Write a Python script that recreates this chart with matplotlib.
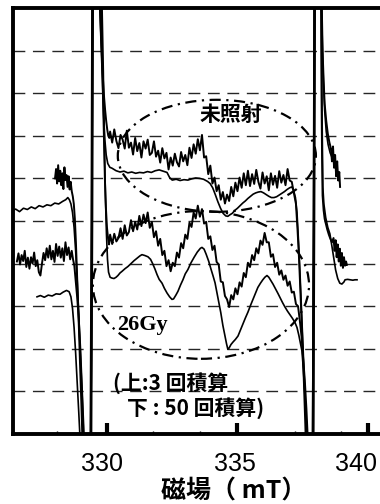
import numpy as np
import matplotlib.pyplot as plt
import matplotlib.transforms as mtransforms
from matplotlib.patches import Ellipse
from matplotlib.ticker import FixedLocator

plt.rcParams['font.family'] = ['Noto Sans CJK JP', 'DejaVu Sans']

# ---- ESR spectra (field in mT, signal in arbitrary units) ----
# common field grid of the noisy middle part (3 scans)
mid_field = [330.12, 330.20, 330.28, 330.36, 330.44, 330.52, 330.60, 330.68, 330.76, 330.84,
             330.92, 331.00, 331.08, 331.16, 331.24, 331.32, 331.40, 331.48, 331.56, 331.64,
             331.72, 331.80, 331.88, 331.96, 332.04, 332.12, 332.20, 332.28, 332.36, 332.44,
             332.52, 332.60, 332.68, 332.76, 332.84, 332.92, 333.00, 333.08, 333.16, 333.24,
             333.32, 333.40, 333.48, 333.56, 333.64, 333.72, 333.80, 333.88, 333.96, 334.04,
             334.12, 334.20, 334.28, 334.36, 334.44, 334.52, 334.60, 334.68, 334.76, 334.84,
             334.92, 335.00, 335.08, 335.16, 335.24, 335.32, 335.40, 335.48, 335.56, 335.64,
             335.72, 335.80, 335.88, 335.96, 336.04, 336.12, 336.20, 336.28, 336.36, 336.44,
             336.52, 336.60, 336.68, 336.76, 336.84, 336.92, 337.00, 337.08, 337.16]

# unirradiated, 3 scans
unirr3_left = [(328.01, 6.00), (328.05, 6.22), (328.09, 5.88), (328.13, 6.31), (328.17, 5.93),
               (328.21, 6.18), (328.25, 5.84), (328.29, 6.12), (328.33, 5.75), (328.37, 6.26),
               (328.41, 5.96), (328.45, 6.08), (328.49, 5.80), (328.53, 6.05), (328.57, 5.74),
               (328.61, 5.92), (328.65, 5.70), (328.69, 5.58), (328.73, 5.40), (328.77, 5.05),
               (328.81, 4.50), (328.85, 3.80), (328.89, 3.10), (328.93, 2.40), (328.97, 1.60),
               (329.02, 0.70), (329.08, -0.60), (329.20, -3.0), (329.36, -3.0), (329.42, 5.0),
               (329.46, 13.0), (329.60, 13.0), (329.72, 10.2), (329.77, 9.4), (329.81, 8.8),
               (329.85, 8.3), (329.89, 7.9), (329.93, 7.6), (329.97, 7.35), (330.01, 7.15),
               (330.05, 7.00), (330.09, 6.95)]
unirr3_mid = [7.10, 6.84, 7.15, 6.88, 6.71, 7.02, 6.91, 6.70, 7.12, 6.72,
              6.84, 6.56, 6.95, 6.64, 6.83, 6.49, 6.87, 6.70, 6.91, 6.55,
              6.60, 6.87, 6.51, 6.65, 6.37, 6.71, 6.47, 6.60, 6.21, 6.49,
              6.30, 6.58, 6.38, 6.28, 6.62, 6.40, 6.55, 6.31, 6.72, 6.48,
              6.80, 6.58, 6.92, 6.66, 7.02, 6.49, 6.52, 6.10, 6.30, 5.88,
              6.02, 5.70, 5.84, 5.50, 5.68, 5.41, 5.62, 5.47, 5.80, 5.58,
              5.90, 5.70, 6.02, 5.78, 6.12, 5.84, 6.18, 5.82, 6.10, 5.87,
              6.20, 5.92, 5.76, 6.14, 5.88, 6.05, 5.72, 6.12, 5.85, 6.06,
              5.78, 6.17, 5.90, 6.08, 5.84, 6.22, 5.95, 5.92, 5.66]
unirr3_right = [(337.24, 5.40), (337.30, 4.80), (337.36, 4.10), (337.42, 3.20), (337.48, 2.30),
                (337.54, 1.30), (337.60, 0.20), (337.68, -1.5), (337.80, -3.0), (337.88, -3.0),
                (337.93, 5.0), (337.97, 13.0), (338.12, 13.0), (338.22, 10.4), (338.26, 9.0),
                (338.30, 8.3), (338.34, 7.75), (338.40, 7.35), (338.46, 7.05), (338.52, 6.85),
                (338.58, 6.70), (338.62, 6.40), (338.66, 6.75), (338.70, 6.25), (338.74, 6.55),
                (338.78, 6.05), (338.82, 6.40), (338.86, 5.95), (338.90, 6.15), (338.93, 5.80)]

# unirradiated, 50 scans
unirr50 = [(326.36, 5.24), (326.50, 5.28), (326.65, 5.22), (326.80, 5.30), (326.95, 5.27),
           (327.10, 5.33), (327.25, 5.29), (327.40, 5.36), (327.55, 5.33), (327.70, 5.38),
           (327.85, 5.36), (328.00, 5.42), (328.15, 5.40), (328.30, 5.46), (328.42, 5.50),
           (328.50, 5.55), (328.56, 5.50), (328.62, 5.40), (328.68, 5.20), (328.74, 4.85),
           (328.80, 4.30), (328.86, 3.60), (328.92, 2.80), (328.98, 1.90), (329.05, 0.90),
           (329.12, -0.3), (329.22, -3.0), (329.36, -3.0), (329.42, 4.0), (329.46, 13.0),
           (329.60, 13.0), (329.71, 10.3), (329.76, 9.4), (329.82, 8.4), (329.87, 7.5),
           (329.92, 6.9), (329.97, 6.55), (330.03, 6.35), (330.11, 6.26), (330.19, 6.24),
           (330.35, 6.18), (330.50, 6.15), (330.65, 6.17), (330.80, 6.13), (330.95, 6.15),
           (331.10, 6.12), (331.25, 6.14), (331.40, 6.13), (331.55, 6.16), (331.70, 6.14),
           (331.85, 6.18), (332.00, 6.20), (332.15, 6.17), (332.30, 6.14), (332.40, 6.02),
           (332.50, 5.96), (332.65, 5.98), (332.80, 5.95), (332.95, 5.97), (333.10, 5.96),
           (333.25, 5.99), (333.40, 6.01), (333.55, 6.00), (333.70, 5.98), (333.85, 5.93),
           (333.95, 5.88), (334.05, 5.78), (334.15, 5.62), (334.25, 5.45), (334.35, 5.30),
           (334.45, 5.18), (334.55, 5.12), (334.63, 5.11), (334.72, 5.15), (334.80, 5.18),
           (334.90, 5.25), (335.00, 5.30), (335.10, 5.36), (335.20, 5.42), (335.30, 5.47),
           (335.40, 5.53), (335.50, 5.58), (335.60, 5.63), (335.70, 5.66), (335.80, 5.68),
           (335.90, 5.69), (336.00, 5.66), (336.10, 5.62), (336.20, 5.58), (336.30, 5.55),
           (336.40, 5.55), (336.50, 5.57), (336.60, 5.61), (336.70, 5.65), (336.80, 5.69),
           (336.90, 5.74), (337.00, 5.78), (337.08, 5.80), (337.15, 5.72), (337.22, 5.55),
           (337.28, 5.20), (337.34, 4.50), (337.40, 3.70), (337.46, 2.80), (337.52, 1.90),
           (337.58, 1.00), (337.64, 0.10), (337.72, -1.5), (337.82, -3.0), (337.90, -3.0),
           (337.95, 5.0), (337.99, 13.0), (338.12, 13.0), (338.21, 10.4), (338.25, 9.2),
           (338.29, 8.3), (338.34, 7.6), (338.40, 7.1), (338.47, 6.8), (338.55, 6.6),
           (338.62, 6.5)]

# 26 Gy, 3 scans
gy26_3_left = [(326.55, 4.05), (326.61, 4.24), (326.67, 3.98), (326.73, 4.20), (326.79, 4.06),
               (326.85, 4.30), (326.91, 3.92), (326.97, 4.14), (327.03, 3.88), (327.09, 4.15),
               (327.15, 4.00), (327.21, 4.26), (327.27, 3.94), (327.33, 4.08), (327.39, 3.80),
               (327.45, 3.72), (327.51, 4.00), (327.57, 4.25), (327.63, 4.08), (327.69, 4.36),
               (327.75, 4.14), (327.81, 4.42), (327.87, 4.10), (327.93, 4.30), (327.99, 4.04),
               (328.05, 4.46), (328.11, 4.18), (328.17, 4.40), (328.23, 4.14), (328.29, 4.36),
               (328.35, 4.06), (328.41, 4.50), (328.47, 4.20), (328.53, 4.38), (328.59, 4.10),
               (328.65, 4.30), (328.70, 4.10), (328.75, 3.95), (328.80, 3.60), (328.86, 3.20),
               (328.92, 2.70), (328.98, 2.00), (329.04, 1.10), (329.10, 0.20), (329.18, -1.5),
               (329.30, -3.0), (329.38, -3.0), (329.44, 5.0), (329.48, 13.0), (329.64, 13.0),
               (329.76, 10.3), (329.80, 9.2), (329.84, 8.0), (329.88, 6.9), (329.92, 6.0),
               (329.96, 5.3), (330.00, 4.85), (330.04, 4.60), (330.08, 4.45)]
gy26_3_mid = [4.68, 4.46, 4.70, 4.52, 4.60, 4.83, 4.58, 4.90, 4.66, 4.74,
              5.02, 4.76, 4.98, 4.80, 5.12, 4.88, 5.15, 4.95, 5.20, 4.84,
              4.98, 4.62, 4.76, 4.42, 4.58, 4.20, 4.30, 3.94, 4.08, 3.82,
              4.02, 3.94, 4.26, 4.14, 4.48, 4.36, 4.68, 4.58, 4.96, 4.86,
              5.20, 5.06, 5.36, 5.10, 5.28, 4.94, 4.98, 4.58, 4.64, 4.32,
              4.42, 4.04, 3.98, 3.58, 3.56, 3.24, 3.16, 2.98, 3.26, 3.16,
              3.42, 3.28, 3.56, 3.46, 3.78, 3.68, 4.02, 3.92, 4.20, 4.08,
              4.36, 4.24, 4.54, 4.44, 4.72, 4.50, 4.50, 4.16, 4.22, 3.92,
              4.02, 3.74, 3.84, 3.62, 3.72, 3.48, 3.58, 3.32, 3.34]
gy26_3_right = [(337.24, 3.05), (337.32, 3.00), (337.40, 2.60), (337.46, 2.25), (337.52, 1.75),
                (337.58, 1.25), (337.64, 0.60), (337.70, -0.2), (337.78, -2.0), (337.86, -3.0),
                (337.92, 5.0), (337.96, 13.0), (338.10, 13.0), (338.20, 10.4), (338.22, 8.0),
                (338.24, 6.5), (338.26, 5.6), (338.30, 5.25), (338.34, 5.05), (338.38, 4.95),
                (338.44, 4.80), (338.50, 4.68), (338.56, 4.58), (338.62, 4.50), (338.68, 4.60),
                (338.72, 4.30), (338.76, 4.55), (338.80, 4.15), (338.84, 4.45), (338.88, 4.05),
                (338.92, 4.35), (338.96, 3.95), (339.00, 4.25), (339.04, 3.90), (339.08, 4.15),
                (339.12, 3.95), (339.16, 4.05), (339.19, 3.97)]

# 26 Gy, 50 scans
gy26_50 = [(327.32, 3.22), (327.45, 3.25), (327.60, 3.21), (327.75, 3.26), (327.90, 3.24),
           (328.05, 3.29), (328.20, 3.28), (328.32, 3.33), (328.45, 3.37), (328.55, 3.34),
           (328.62, 3.22), (328.68, 2.95), (328.74, 2.50), (328.80, 1.90), (328.86, 1.20),
           (328.92, 0.50), (329.00, -0.5), (329.10, -3.0), (329.34, -3.0), (329.40, 5.0),
           (329.44, 13.0), (329.62, 13.0), (329.80, 10.4), (329.86, 8.5), (329.90, 6.8),
           (329.94, 5.6), (329.98, 4.7), (330.02, 4.1), (330.06, 3.80), (330.12, 3.68),
           (330.19, 3.66), (330.27, 3.65), (330.35, 3.68), (330.42, 3.72), (330.50, 3.78),
           (330.58, 3.82), (330.69, 3.88), (330.80, 3.93), (330.92, 4.00), (331.04, 4.07),
           (331.16, 4.13), (331.26, 4.18), (331.34, 4.21), (331.45, 4.19), (331.57, 4.16),
           (331.67, 4.10), (331.75, 4.00), (331.84, 3.87), (331.92, 3.74), (332.00, 3.63),
           (332.11, 3.54), (332.20, 3.42), (332.30, 3.31), (332.40, 3.22), (332.49, 3.16),
           (332.55, 3.17), (332.64, 3.26), (332.72, 3.35), (332.82, 3.50), (332.91, 3.62),
           (333.00, 3.76), (333.10, 3.86), (333.22, 4.02), (333.34, 4.15), (333.46, 4.27),
           (333.58, 4.36), (333.64, 4.38), (333.72, 4.34), (333.80, 4.22), (333.90, 4.05),
           (333.98, 3.88), (334.06, 3.72), (334.14, 3.55), (334.22, 3.30), (334.28, 3.10),
           (334.36, 2.85), (334.44, 2.55), (334.52, 2.30), (334.58, 2.12), (334.63, 1.99),
           (334.68, 2.02), (334.75, 2.10), (334.83, 2.16), (334.92, 2.22), (335.02, 2.30),
           (335.10, 2.42), (335.21, 2.58), (335.30, 2.72), (335.40, 2.86), (335.50, 3.02),
           (335.60, 3.17), (335.70, 3.32), (335.78, 3.44), (335.88, 3.54), (335.97, 3.62),
           (336.05, 3.68), (336.13, 3.72), (336.20, 3.68), (336.28, 3.60), (336.36, 3.52),
           (336.43, 3.44), (336.55, 3.30), (336.63, 3.20), (336.73, 3.08), (336.82, 2.98),
           (336.92, 2.88), (337.01, 2.80), (337.10, 2.72), (337.20, 2.62), (337.28, 2.50),
           (337.35, 2.32), (337.42, 2.10), (337.47, 1.95), (337.52, 1.55), (337.57, 1.05),
           (337.62, 0.50), (337.68, -0.3), (337.76, -2.0), (337.86, -3.0), (337.91, 5.0),
           (337.95, 13.0), (338.12, 13.0), (338.21, 10.4), (338.24, 7.5), (338.27, 5.8),
           (338.31, 5.40), (338.38, 5.08), (338.46, 4.85), (338.54, 4.70), (338.62, 4.40),
           (338.70, 4.08), (338.76, 3.85), (338.84, 3.65), (338.92, 3.54), (339.00, 3.52),
           (339.08, 3.57), (339.12, 3.62), (339.22, 3.63), (339.31, 3.62), (339.42, 3.61),
           (339.50, 3.62), (339.58, 3.62)]

x_ticks = [330, 335, 340]
x_tick_labels = ['330', '335', '340']
minor_ticks = [328.1, 331.75, 333.55, 337.2, 338.95]


def split(pairs):
    f, s = zip(*pairs)
    return list(f), list(s)


def noisy_trace(left, mid, right):
    lf, ls = split(left)
    rf, rs = split(right)
    return np.array(lf + mid_field + rf), np.array(ls + mid + rs)


traces = [
    (noisy_trace(unirr3_left, unirr3_mid, unirr3_right), 1.4),
    (tuple(np.array(v) for v in split(unirr50)), 1.2),
    (noisy_trace(gy26_3_left, gy26_3_mid, gy26_3_right), 1.4),
    (tuple(np.array(v) for v in split(gy26_50)), 1.2),
]

fig = plt.figure(figsize=(3.8, 5.04), dpi=100)
ax = fig.add_axes([13 / 380, 70 / 504, 367 / 380, 426 / 504])

for (field, sig), lw in traces:
    ax.plot(field, sig, color='black', lw=lw, zorder=3)

# circled regions
dashdot = (0, (5, 2.5, 1, 2.5))
ax.add_patch(Ellipse((334.21, 6.53), 7.59, 2.63, fill=False, ec='black',
                     lw=1.6, ls=dashdot, zorder=4))
ax.add_patch(Ellipse((333.60, 3.50), 8.28, 3.47, fill=False, ec='black',
                     lw=1.6, ls=dashdot, zorder=4))

ax.set_xlim(326.40, 340.46)
ax.set_ylim(0, 10)

for side in ['left', 'top', 'bottom']:
    ax.spines[side].set_linewidth(2.8)
ax.spines['right'].set_visible(False)

ax.set_xticks(x_ticks)
ax.set_xticklabels(x_tick_labels, fontsize=18, family='Liberation Sans')
ax.xaxis.set_minor_locator(FixedLocator(minor_ticks))
ax.tick_params(axis='x', which='major', direction='in', length=8, width=3, pad=13)
ax.tick_params(axis='x', which='minor', direction='in', length=2.5, width=1)

# tick labels sit a little left of their ticks
for label, dx in zip(ax.get_xticklabels(), [-5, -3, -12]):
    label.set_transform(label.get_transform()
                        + mtransforms.ScaledTranslation(dx / 100, 0, fig.dpi_scale_trans))

ax.set_yticks(range(1, 10))
ax.tick_params(axis='y', length=0, labelleft=False)
ax.grid(axis='y', color='0.15', lw=1.0, ls=(0, (8.5, 5.5)))
ax.set_axisbelow(True)

ax.text(334.75, 7.51, '未照射', fontsize=15, fontweight='bold', ha='center', va='center', zorder=5)
ax.text(330.38, 2.56, '26Gy', family='Liberation Serif', fontsize=16, fontweight='bold',
        ha='left', va='center', zorder=5)
ax.text(330.23, 1.20, '(上:3 回積算', fontsize=15, fontweight='bold', ha='left', va='center', zorder=5)
ax.text(330.77, 0.61, '下 : 50 回積算)', fontsize=15, fontweight='bold', ha='left', va='center', zorder=5)

trans = mtransforms.blended_transform_factory(ax.transData, ax.transAxes)
ax.text(334.85, -0.136, '磁場（ mT）', transform=trans, fontsize=18, fontweight='bold',
        ha='center', va='center', clip_on=False)

fig.savefig('out.png', dpi=100)
